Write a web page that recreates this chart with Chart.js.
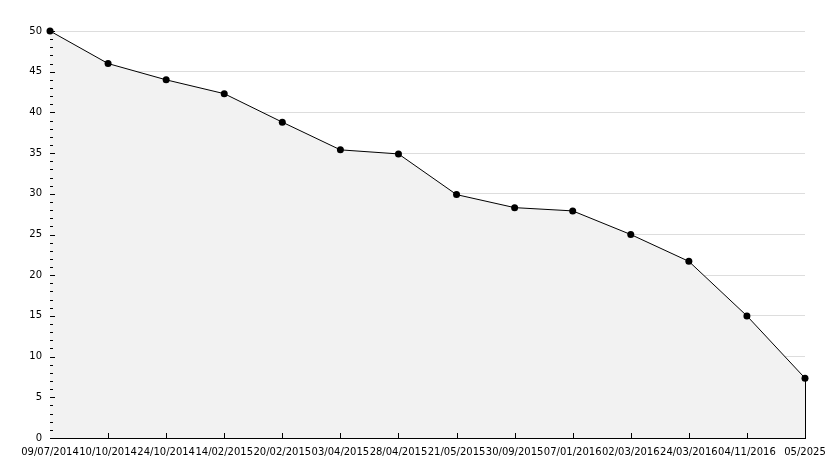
<!DOCTYPE html>
<html lang="en">
<head>
    <meta charset="UTF-8">
    <title>Line chart</title>
    <script src="https://cdn.jsdelivr.net/npm/chart.js"></script>
    <style>
body {
  margin: 0;
  background: #fff;
}
.wrap {
  width: 834px;
  height: 468px;
}
    </style>
</head>
<body>
    <div class="wrap"><canvas id="chart"></canvas></div>

    <script>
// data
const dates = ['09/07/2014', '10/10/2014', '24/10/2014', '14/02/2015', '20/02/2015', '03/04/2015', '28/04/2015',
               '21/05/2015', '30/09/2015', '07/01/2016', '02/03/2016', '24/03/2016', '04/11/2016', '05/2025'];
const values = [50, 46, 44, 42.3, 38.8, 35.4, 34.9, 29.9, 28.3, 27.9, 25, 21.7, 15, 7.35];
const yMin = 0, yMax = 50, yStep = 5;

// small inner tick marks + closing edge of the area
const innerTicks = {
    id: 'innerTicks',
    afterDatasetsDraw(chart) {
        const ctx = chart.ctx;
        const x = chart.scales.x, y = chart.scales.y;
        const area = chart.chartArea;
        ctx.save();
        ctx.strokeStyle = '#000';
        ctx.lineWidth = 1;
        ctx.beginPath();
        for (let v = yMin; v <= yMax; v++) {
            const py = Math.round(y.getPixelForValue(v)) + 0.5;
            const len = v % yStep === 0 ? 5 : 3;
            ctx.moveTo(area.left, py);
            ctx.lineTo(area.left + len, py);
        }
        for (let i = 1; i < dates.length - 1; i++) {
            const px = Math.round(x.getPixelForValue(i)) + 0.5;
            ctx.moveTo(px, area.bottom);
            ctx.lineTo(px, area.bottom - 5);
        }
        const last = dates.length - 1;
        const lx = Math.round(x.getPixelForValue(last)) + 0.5;
        ctx.moveTo(lx, y.getPixelForValue(values[last]));
        ctx.lineTo(lx, area.bottom);
        ctx.stroke();
        ctx.restore();
    }
};

function createChart() {
    new Chart(document.getElementById('chart'), {
        type: 'line',
        data: {
            labels: dates,
            datasets: [{
                data: values,
                borderColor: '#000',
                borderWidth: 1,
                backgroundColor: '#f2f2f2',
                fill: 'origin',
                tension: 0,
                clip: false,
                pointRadius: 3.5,
                pointBackgroundColor: '#000',
                pointBorderColor: '#000',
                pointBorderWidth: 0
            }]
        },
        options: {
            responsive: true,
            maintainAspectRatio: false,
            animation: false,
            layout: { padding: { top: 31, right: 29, left: 0, bottom: 0 } },
            plugins: {
                legend: { display: false },
                tooltip: { enabled: false }
            },
            scales: {
                x: {
                    offset: false,
                    grid: { display: false },
                    border: { color: '#000', width: 1 },
                    ticks: {
                        color: '#000',
                        autoSkip: false,
                        maxRotation: 0,
                        minRotation: 0,
                        padding: 0,
                        font: { family: 'DejaVu Sans', size: 10 }
                    },
                    afterFit(scale) { scale.height = 30; }
                },
                y: {
                    min: yMin,
                    max: yMax,
                    grid: {
                        color: (c) => c.tick && c.tick.value === 0 ? 'rgba(0,0,0,0)' : '#dddddd',
                        drawTicks: false
                    },
                    border: { color: '#000', width: 1 },
                    ticks: {
                        stepSize: yStep,
                        color: '#000',
                        padding: 8,
                        font: { family: 'DejaVu Sans', size: 10 }
                    },
                    afterFit(scale) { scale.width = 50; }
                }
            }
        },
        plugins: [innerTicks]
    });
}

if (document.readyState === 'loading') {
    document.addEventListener('DOMContentLoaded', createChart);
} else {
    createChart();
}
    </script>
</body>
</html>
